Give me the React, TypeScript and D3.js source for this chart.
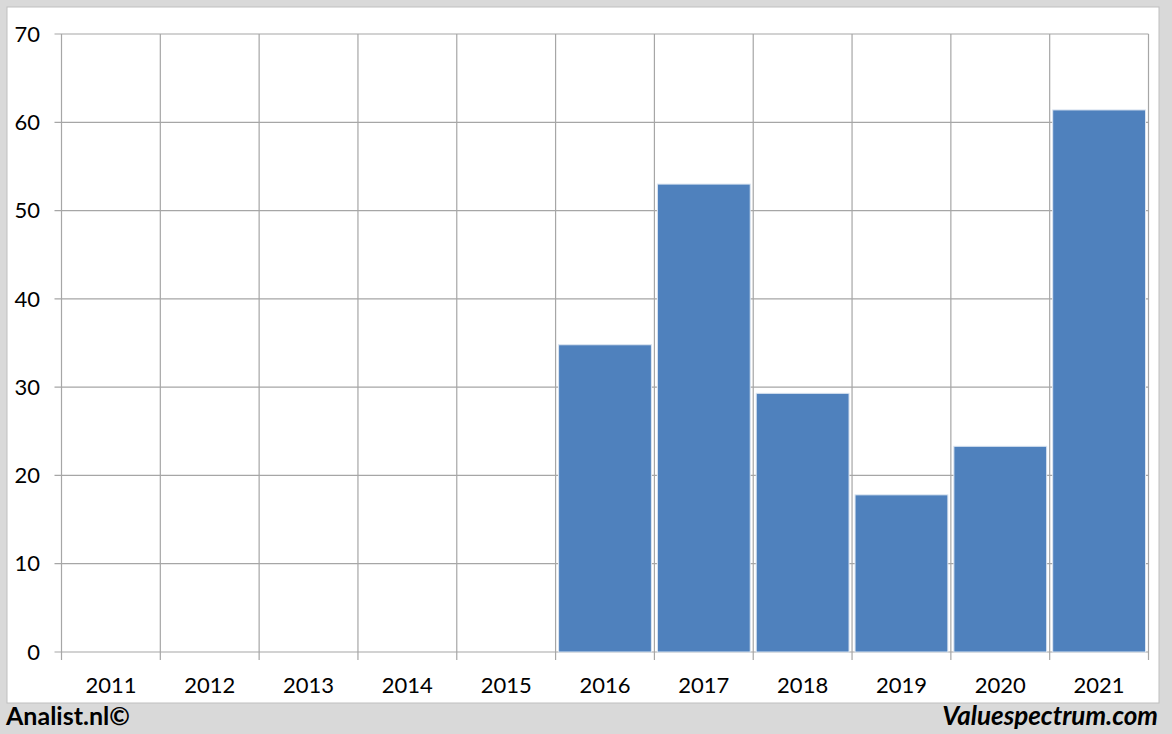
import React from "react";
import * as d3 from "d3";

const years = ["2011", "2012", "2013", "2014", "2015", "2016", "2017", "2018", "2019", "2020", "2021"];
const values: (number | null)[] = [null, null, null, null, null, 34.8, 53.0, 29.3, 17.8, 23.3, 61.4];
const yTicks = [0, 10, 20, 30, 40, 50, 60, 70];

const W = 1172, H = 734;
const left = 61.5, right = 1148.5, top = 34, bottom = 652;
const font = "Lato, 'Open Sans', sans-serif";

export default function App() {
  const x = d3.scaleBand<string>().domain(years).range([left, right]).paddingInner(0).paddingOuter(0);
  const y = d3.scaleLinear().domain([0, 70]).range([bottom, top]);
  const bw = x.bandwidth();
  const gap = 3;
  return (
    <svg width={W} height={H} style={{ position: "absolute", left: 0, top: 0, display: "block" }}>
      <rect x={0} y={0} width={W} height={H} fill="#d9d9d9" />
      <rect x={7} y={7} width={1152} height={696} fill="#ffffff" stroke="#bfbfbf" strokeWidth={1} />
      {yTicks.map((t) => (
        <g key={t}>
          <line x1={left - 7} x2={right} y1={y(t)} y2={y(t)} stroke="#a6a6a6" strokeWidth={1.2} />
          <text x={40} y={y(t)} dy="0.35em" textAnchor="end" fontFamily={font} fontSize={22} fill="#000">{t}</text>
        </g>
      ))}
      {years.map((yr) => (
        <line key={"v" + yr} x1={x(yr)!} x2={x(yr)!} y1={top} y2={bottom + 8} stroke="#a6a6a6" strokeWidth={1.2} />
      ))}
      <line x1={right} x2={right} y1={top} y2={bottom + 8} stroke="#a6a6a6" strokeWidth={1.2} />
      {years.map((yr, i) => {
        const v = values[i];
        if (v == null) return null;
        return (
          <rect key={"b" + yr} x={x(yr)! + gap} y={y(v)} width={bw - 2 * gap} height={bottom - y(v)}
            fill="#4f81bd" stroke="#dbe5f1" strokeWidth={1} />
        );
      })}
      {years.map((yr) => (
        <text key={"l" + yr} x={x(yr)! + bw / 2} y={693} textAnchor="middle" fontFamily={font} fontSize={22} fill="#000">{yr}</text>
      ))}
      <text x={6} y={725} fontFamily={font} fontSize={25} fontWeight="bold" fill="#000">Analist.nl©</text>
      <text x={1158} y={725} textAnchor="end" fontFamily={font} fontSize={26} fontWeight="bold" fontStyle="italic" fill="#000">Valuespectrum.com</text>
    </svg>
  );
}
